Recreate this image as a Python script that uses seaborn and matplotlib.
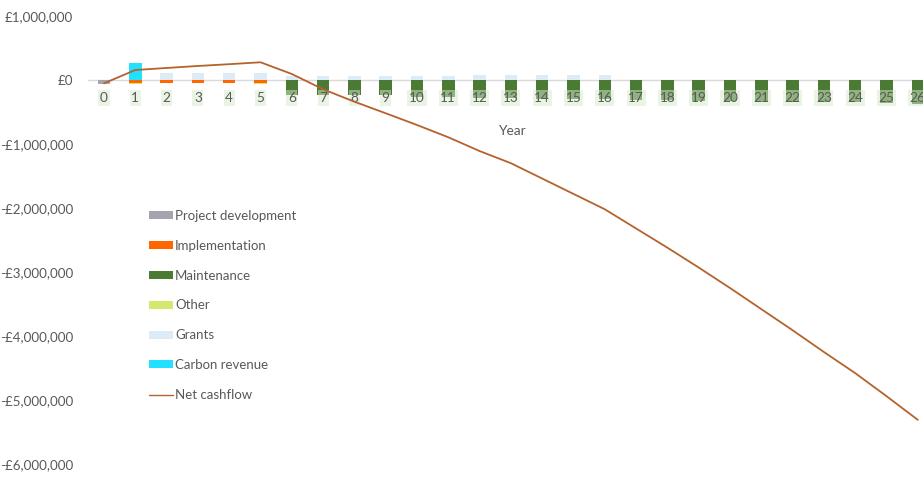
import numpy as np
import pandas as pd
import matplotlib
matplotlib.use("Agg")
import matplotlib.pyplot as plt
import seaborn as sns
from matplotlib.patches import Patch
from matplotlib.lines import Line2D
from matplotlib.ticker import FuncFormatter

# ---------------- data (GBP) ----------------
years = list(range(0, 27))
project_development = [-55000] + [0] * 26
implementation = [0, -45000, -45000, -45000, -45000, -45000] + [0] * 21
maintenance = [0] * 6 + [-230000, -230000, -230000, -230000,
                         -260000, -260000, -280000, -280000, -290000, -290000, -290000,
                         -320000, -320000, -330000, -330000, -340000, -340000, -350000,
                         -350000, -360000, -370000]
other = [0, -10000, -5000, -5000, -5000, -25000] + [0] * 21
grants = [0, 0, 110000, 110000, 110000, 110000,
          62000, 62000, 62000, 62000, 67000, 67000,
          78000, 78000, 78000, 78000, 78000] + [0] * 10
carbon_revenue = [0, 270000] + [0] * 25
net_cashflow = [-52000, 156000, 188000, 219000, 247000, 277000, 94000,
                -145000, -339000, -520000, -703000, -895000, -1110000,
                -1300000, -1540000, -1780000, -2020000, -2320000, -2620000,
                -2930000, -3250000, -3580000, -3910000, -4250000, -4580000,
                -4940000, -5310000]
y_ticks = [1000000, 0, -1000000, -2000000, -3000000, -4000000, -5000000, -6000000]

series_names = ["Project development", "Implementation", "Maintenance",
                "Other", "Grants", "Carbon revenue"]
colors = {"Project development": "#A5A5B0", "Implementation": "#FF6600",
          "Maintenance": "#4A7A33", "Other": "#D3E86C", "Grants": "#DDEBF7",
          "Carbon revenue": "#22E0FF"}
line_color = "#B5622C"
txt_color = "#595959"

df = pd.DataFrame({"Year": years,
                   "Project development": project_development,
                   "Implementation": implementation,
                   "Maintenance": maintenance,
                   "Other": other,
                   "Grants": grants,
                   "Carbon revenue": carbon_revenue,
                   "Net cashflow": net_cashflow})

sns.set_theme(style="white")
plt.rcParams["font.family"] = ["Lato", "DejaVu Sans"]

W, H = 923, 479
fig = plt.figure(figsize=(W / 100, H / 100), dpi=100)
left_px, right_px = 88.35, 923
top_px, bot_px = 16, 464
ax = fig.add_axes([left_px / W, (H - bot_px) / H, (right_px - left_px) / W, (bot_px - top_px) / H])

# zero line
ax.axhline(0, color="#D9D9D9", lw=1.0, zorder=0.8)

# stacked bars drawn as overlays (deepest first)
neg_order = ["Project development", "Implementation", "Maintenance", "Other"]
for k in range(len(neg_order), 0, -1):
    cum = df[neg_order[:k]].sum(axis=1)
    sns.barplot(x=df["Year"], y=cum, color=colors[neg_order[k - 1]], width=0.4,
                linewidth=0, saturation=1, ax=ax, zorder=1, errorbar=None)
pos_order = ["Grants", "Carbon revenue"]
for k in range(len(pos_order), 0, -1):
    cum = df[pos_order[:k]].sum(axis=1)
    sns.barplot(x=df["Year"], y=cum, color=colors[pos_order[k - 1]], width=0.4,
                linewidth=0, saturation=1, ax=ax, zorder=1, errorbar=None)

# net cashflow line
sns.lineplot(x=np.arange(len(years)), y=df["Net cashflow"], color=line_color,
             lw=1.3, ax=ax, zorder=4)

# year labels next to zero line, with pale green boxes
for i, yr in enumerate(years):
    ax.annotate(str(yr), xy=(i, 0), xytext=(0, -18 * 0.72), textcoords="offset points",
                ha="center", va="center", fontsize=9.8, color=txt_color, zorder=3,
                bbox=dict(boxstyle="square,pad=0.12", fc="#D6EACB", ec="none", alpha=0.5))

ax.set_xlim(-0.5, (right_px - left_px) / 31.3 - 0.5)
ax.set_ylim(-6000000, 1000000)
ax.set_yticks(y_ticks)
ax.yaxis.set_major_formatter(FuncFormatter(
    lambda v, p: ("-" if v < 0 else "") + "£{:,.0f}".format(abs(v))))
ax.tick_params(axis="y", length=0, pad=11, labelsize=9.6, labelcolor=txt_color)
ax.set_xticks([])
ax.set_xlabel("")
ax.set_ylabel("")
for s in ax.spines.values():
    s.set_visible(False)

fig.text(513 / W, 1 - 131 / H, "Year", ha="center", va="center",
         fontsize=9.8, color=txt_color)

handles = [Patch(facecolor=colors[n], edgecolor="none", label=n) for n in series_names]
handles.append(Line2D([0], [0], color=line_color, lw=1.0, label="Net cashflow"))
leg = fig.legend(handles=handles, loc="upper left",
                 bbox_to_anchor=(149 / W, 1 - 210 / H), frameon=False,
                 fontsize=9.5, labelcolor=txt_color, handlelength=1.85,
                 handleheight=0.55, handletextpad=0.12, labelspacing=1.35,
                 borderaxespad=0, borderpad=0)

fig.savefig("out.png", dpi=100)
